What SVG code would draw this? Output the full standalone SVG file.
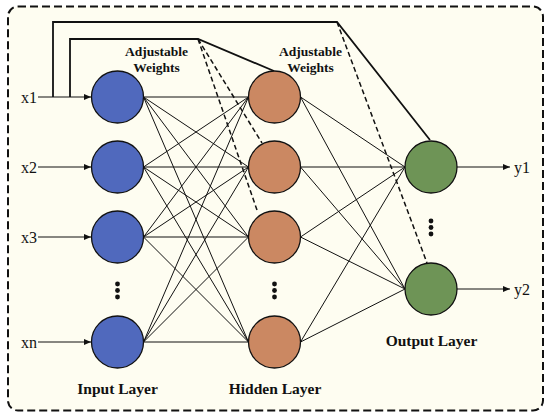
<svg xmlns="http://www.w3.org/2000/svg" width="550" height="417" viewBox="0 0 550 417">
<style>
.lbl{font-family:"Liberation Serif","Times New Roman",serif;font-size:16px;fill:#111}
.bold{font-family:"Liberation Serif","Times New Roman",serif;font-weight:bold;fill:#111}
.w{fill:none;stroke:#111;stroke-width:1}
.fb{fill:none;stroke:#111;stroke-width:1.8}
.dash{fill:none;stroke:#111;stroke-width:1.5;stroke-dasharray:5 3}
.node{stroke:#111;stroke-width:1.3}
.in{fill:#5069bd}
.hid{fill:#cb8862}
.out{fill:#6e9456}
</style>
<defs>
<marker id="ah" markerWidth="8" markerHeight="6" refX="7" refY="3" orient="auto" markerUnits="userSpaceOnUse">
<path d="M0,0 L7,3 L0,6 Z" fill="#111"/>
</marker>
</defs>
<rect x="8" y="6.5" width="535" height="404" rx="10" ry="10" fill="#fefdf1" stroke="#111" stroke-width="2" stroke-dasharray="8 4"/>
<g id="connectors">
<g class="w">
<path d="M143.5,97 L248.5,97 M143.5,97 L248.5,167 M143.5,97 L248.5,237 M143.5,97 L248.5,342"/>
<path d="M143.5,167 L248.5,97 M143.5,167 L248.5,167 M143.5,167 L248.5,237 M143.5,167 L248.5,342"/>
<path d="M143.5,237 L248.5,97 M143.5,237 L248.5,167 M143.5,237 L248.5,237 M143.5,237 L248.5,342"/>
<path d="M143.5,342 L248.5,97 M143.5,342 L248.5,167 M143.5,342 L248.5,237 M143.5,342 L248.5,342"/>
<path d="M300.5,97 L405,167 M300.5,97 L405,289"/>
<path d="M300.5,167 L405,167 M300.5,167 L405,289"/>
<path d="M300.5,237 L405,167 M300.5,237 L405,289"/>
<path d="M300.5,342 L405,167 M300.5,342 L405,289"/>
</g>
<g class="w" marker-end="url(#ah)">
<path d="M38,97 L91,97"/>
<path d="M38,167 L91,167"/>
<path d="M38,237 L91,237"/>
<path d="M38,342 L91,342"/>
<path d="M457,167 L510,167"/>
<path d="M457,289 L510,289"/>
</g>
<path class="fb" d="M53,97 L53,22 L337,22 L430,140"/>
<path class="fb" d="M70,97 L70,39 L198,39 L274,71"/>
<path class="dash" d="M198,39 L262,143"/>
<path class="dash" d="M198,39 L258,213"/>
<path class="dash" d="M337,22 L427,263"/>
</g>
<g id="input-nodes">
<circle id="in1" class="node in" cx="117.5" cy="97" r="26"/>
<circle id="in2" class="node in" cx="117.5" cy="167" r="26"/>
<circle id="in3" class="node in" cx="117.5" cy="237" r="26"/>
<circle id="in4" class="node in" cx="117.5" cy="342" r="26"/>
</g>
<g id="hidden-nodes">
<circle id="h1" class="node hid" cx="274.5" cy="97" r="26"/>
<circle id="h2" class="node hid" cx="274.5" cy="167" r="26"/>
<circle id="h3" class="node hid" cx="274.5" cy="237" r="26"/>
<circle id="h4" class="node hid" cx="274.5" cy="342" r="26"/>
</g>
<g id="output-nodes">
<circle id="o1" class="node out" cx="431" cy="167" r="26"/>
<circle id="o2" class="node out" cx="431" cy="289" r="26"/>
</g>
<g id="dots" fill="#111">
<circle cx="117.5" cy="284" r="2.4"/><circle cx="117.5" cy="290.5" r="2.4"/><circle cx="117.5" cy="297" r="2.4"/>
<circle cx="274.5" cy="284" r="2.4"/><circle cx="274.5" cy="290.5" r="2.4"/><circle cx="274.5" cy="297" r="2.4"/>
<circle cx="431" cy="221" r="2.4"/><circle cx="431" cy="227.5" r="2.4"/><circle cx="431" cy="234" r="2.4"/>
</g>
<g id="labels">
<text class="lbl" x="21" y="103">x1</text>
<text class="lbl" x="21" y="173">x2</text>
<text class="lbl" x="21" y="243">x3</text>
<text class="lbl" x="21" y="348">xn</text>
<text class="lbl" x="514" y="173">y1</text>
<text class="lbl" x="514" y="295">y2</text>
<text class="bold" font-size="13.5" text-anchor="middle" x="156.5" y="56">Adjustable</text>
<text class="bold" font-size="13.5" text-anchor="middle" x="156.5" y="72">Weights</text>
<text class="bold" font-size="13.5" text-anchor="middle" x="310.5" y="56">Adjustable</text>
<text class="bold" font-size="13.5" text-anchor="middle" x="310.5" y="72">Weights</text>
<text class="bold" font-size="15.5" text-anchor="middle" x="117.5" y="394">Input Layer</text>
<text class="bold" font-size="15.5" text-anchor="middle" x="275" y="394">Hidden Layer</text>
<text class="bold" font-size="15.5" text-anchor="middle" x="431.5" y="346">Output Layer</text>
</g>
</svg>
